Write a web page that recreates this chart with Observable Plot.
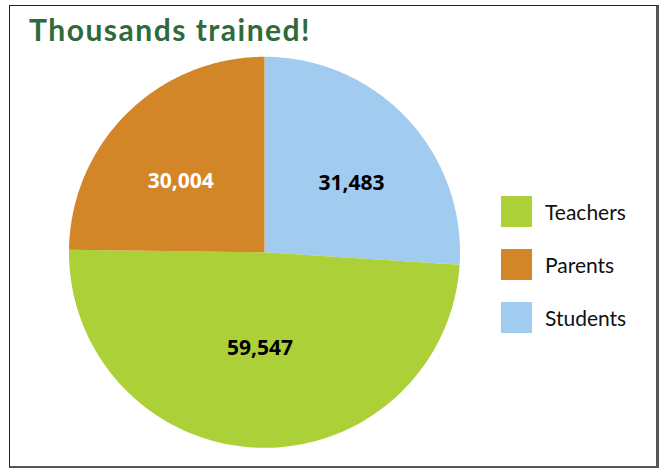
<!DOCTYPE html>
<html><head><meta charset="utf-8">
<script src="https://cdn.jsdelivr.net/npm/d3@7"></script>
<script src="https://cdn.jsdelivr.net/npm/@observablehq/plot@0.6"></script>
<style>
html,body{margin:0;padding:0;background:#fff;}
#wrap{position:relative;width:664px;height:473px;overflow:hidden;}
#frame{position:absolute;left:9px;top:5px;width:646px;height:460px;border:1.5px solid #222;border-right:3px solid #555;border-bottom:2.5px solid #555;}
#title{position:absolute;left:29px;top:11px;font-family:Lato,sans-serif;font-weight:700;font-size:30px;letter-spacing:1.5px;color:#2f6a3c;white-space:nowrap;}
#chart{position:absolute;left:0;top:0;}
#legend{position:absolute;left:501px;top:196px;font-family:Lato,sans-serif;font-size:21px;color:#111;}
.item{display:flex;align-items:center;height:31px;margin-bottom:22px;}
.sw{width:31px;height:31px;margin-right:13px;}
</style></head>
<body><div id="wrap"><div id="frame"></div><div id="title">Thousands trained!</div><div id="chart"></div><div id="legend"></div></div>
<script>
const title = "Thousands trained!";
const legendOrder = ["Teachers", "Parents", "Students"];
const sliceOrder = ["Students", "Teachers", "Parents"];
const values = {Students: 31483, Teachers: 59547, Parents: 30004};
const labels = {Students: "31,483", Teachers: "59,547", Parents: "30,004"};
const colors = {Teachers: "#acd037", Parents: "#d38628", Students: "#a1ccf0"};
const labelColors = {Teachers: "#000", Parents: "#fff", Students: "#000"};

const pie = d3.pie().sort(null).value(d => values[d])(sliceOrder);
const poly = [];
const cents = [];
for (const a of pie) {
  const n = 120;
  poly.push({cat: a.data, x: 0, y: 0});
  for (let i = 0; i <= n; i++) {
    const t = a.startAngle + (a.endAngle - a.startAngle) * i / n;
    poly.push({cat: a.data, x: Math.sin(t), y: Math.cos(t)});
  }
  const m = (a.startAngle + a.endAngle) / 2;
  cents.push({cat: a.data, x: 0.61 * Math.sin(m), y: 0.5 * Math.cos(m) + 0.01, label: labels[a.data]});
}
const cx = 264, cy = 251.8, r = 195.5;
const chart = Plot.plot({
  width: 664, height: 473,
  margin: 0,
  x: {domain: [-1, 1], range: [cx - r, cx + r], axis: null},
  y: {domain: [-1, 1], range: [cy + r, cy - r], axis: null},
  color: {domain: legendOrder, range: legendOrder.map(k => colors[k])},
  marks: [
    Plot.line(poly, {x: "x", y: "y", z: "cat", fill: "cat", stroke: null, curve: "linear"}),
    Plot.text(cents, {x: "x", y: "y", text: "label", fill: d => labelColors[d.cat], fontSize: 21, fontWeight: "bold", fontFamily: "Open Sans, sans-serif"})
  ]
});
document.getElementById("chart").appendChild(chart);
const lg = document.getElementById("legend");
for (const k of legendOrder) {
  const it = document.createElement("div"); it.className = "item";
  const sw = document.createElement("div"); sw.className = "sw"; sw.style.background = colors[k];
  const tx = document.createElement("span"); tx.textContent = k;
  it.appendChild(sw); it.appendChild(tx); lg.appendChild(it);
}
</script></body></html>
